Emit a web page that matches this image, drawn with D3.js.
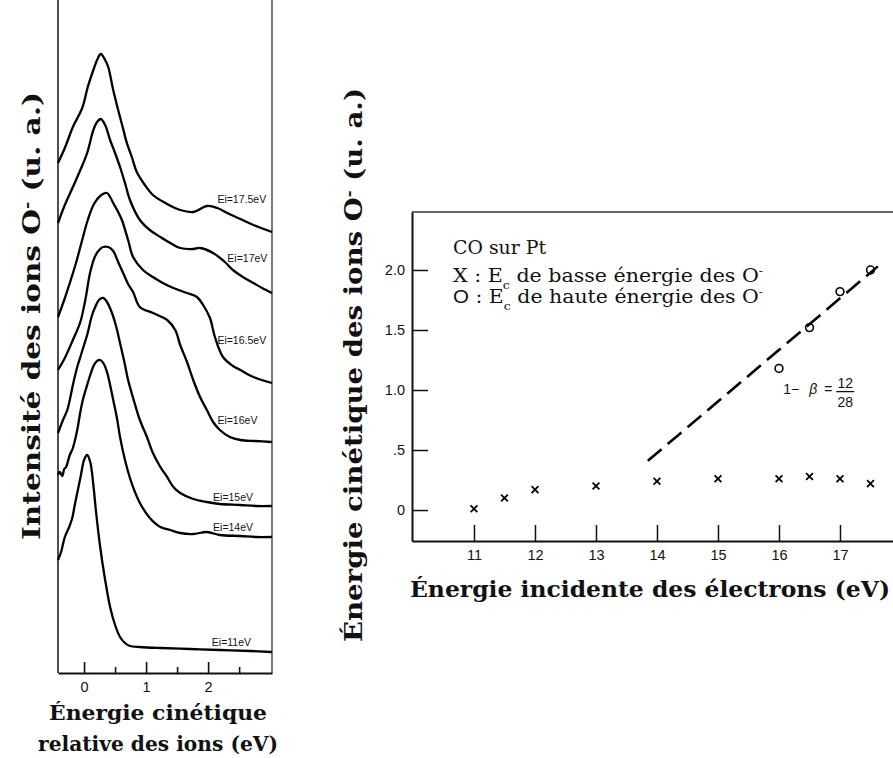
<!DOCTYPE html>
<html><head><meta charset="utf-8">
<script src="https://cdn.jsdelivr.net/npm/d3@7"></script>
<style>body{margin:0;background:#fff}</style>
</head><body>
<svg id="c" width="893" height="758"></svg>
<script>
// ================= DATA =================
// Left panel: relative kinetic energy of O- ions (eV) vs intensity (arbitrary units, curves offset)
const spectrumLabels = ["Ei=17.5eV","Ei=17eV","Ei=16.5eV","Ei=16eV","Ei=15eV","Ei=14eV","Ei=11eV"];

const ekin175 = [-0.42,-0.31,-0.18,-0.03,0.06,0.15,0.21,0.27,0.34,0.39,0.47,0.55,0.61,0.69,0.77,0.85,0.98,1.11,1.31,1.55,1.76,1.98,2.15,2.31,2.52,2.73,3.03];
const int175  = [51.0,52.5,54.6,56.5,58.6,60.3,61.3,61.9,61.3,60.6,58.3,56.3,54.9,53.0,51.6,50.1,48.8,47.8,47.0,46.3,46.1,46.7,46.5,46.0,45.4,44.8,44.1];

const ekin17 = [-0.42,-0.31,-0.18,-0.06,0.05,0.15,0.21,0.27,0.34,0.42,0.50,0.58,0.66,0.74,0.90,1.06,1.23,1.39,1.55,1.76,1.87,2.08,2.27,2.40,2.56,2.73,2.87,3.03];
const int17  = [45.0,46.8,48.6,50.3,52.0,54.3,55.1,55.4,54.8,53.3,52.0,50.6,49.0,47.3,45.3,44.3,43.6,43.0,42.5,42.4,42.5,42.0,41.1,40.3,39.6,39.0,38.5,38.0];

const ekin165 = [-0.42,-0.32,-0.23,-0.13,-0.03,0.06,0.16,0.26,0.37,0.42,0.47,0.55,0.61,0.71,0.79,0.95,1.11,1.27,1.44,1.66,1.82,1.92,2.03,2.11,2.24,2.40,2.52,2.73,3.03];
const int165  = [35.6,37.3,39.0,41.0,43.3,45.3,46.9,47.7,48.0,47.6,47.0,46.1,45.3,43.3,41.6,40.3,39.6,39.0,38.5,38.0,37.6,36.8,35.5,33.6,31.6,30.7,30.3,29.6,29.0];

const ekin16 = [-0.42,-0.31,-0.18,-0.06,0.02,0.10,0.18,0.26,0.31,0.39,0.47,0.55,0.63,0.71,0.79,0.90,1.11,1.34,1.47,1.55,1.66,1.76,1.87,1.98,2.08,2.19,2.35,2.52,2.76,3.03];
const int16  = [30.3,31.5,33.3,35.1,37.3,40.1,41.7,42.4,42.6,42.6,42.2,41.1,40.0,38.9,38.1,36.6,36.0,35.3,34.3,32.8,31.1,29.3,27.6,26.3,25.1,24.3,23.6,23.3,23.2,23.1];

const ekin15 = [-0.42,-0.39,-0.34,-0.27,-0.23,-0.18,-0.11,-0.06,0.00,0.05,0.13,0.18,0.24,0.31,0.37,0.45,0.52,0.58,0.65,0.71,0.81,0.90,1.02,1.11,1.23,1.34,1.44,1.55,1.76,1.98,2.19,2.52,2.76,3.03];
const int15  = [24.0,24.5,25.3,26.3,27.3,28.8,30.6,31.6,32.8,33.8,35.8,36.6,37.3,37.5,37.1,36.0,34.6,33.0,31.1,29.3,27.1,25.3,23.5,22.0,20.6,19.6,18.6,18.0,17.4,17.1,16.9,16.8,16.7,16.7];

const ekin14 = [-0.42,-0.39,-0.35,-0.32,-0.29,-0.23,-0.18,-0.11,-0.06,-0.02,0.05,0.10,0.16,0.21,0.26,0.32,0.37,0.42,0.47,0.53,0.58,0.66,0.74,0.82,0.90,1.06,1.23,1.39,1.55,1.76,1.98,2.19,2.52,2.76,3.03];
const int14  = [19.8,20.1,19.7,20.4,20.6,21.8,22.5,24.3,26.1,27.3,28.8,29.8,30.8,31.2,31.3,30.9,30.1,28.8,27.3,25.5,23.6,21.3,19.5,18.1,17.0,15.5,14.6,14.3,14.0,13.9,14.1,13.8,13.7,13.6,13.6];

const ekin11 = [-0.42,-0.37,-0.31,-0.24,-0.19,-0.15,-0.10,-0.05,0.00,0.05,0.10,0.15,0.19,0.26,0.34,0.42,0.50,0.58,0.66,0.74,0.90,1.23,1.71,2.19,2.68,3.03];
const int11  = [11.3,12.1,13.6,14.6,15.5,16.8,18.3,19.8,21.3,21.8,21.1,18.8,16.3,12.6,9.3,6.6,4.8,3.6,3.0,2.7,2.6,2.5,2.4,2.3,2.2,2.1];

const leftMajorTicks = [0,1,2];
const leftMinorTicks = [0.5,1.5,2.5];
const leftTickLabels = ["0","1","2"];

// Right panel: incident electron energy (eV) vs kinetic energy of O- (u. a.)
const incidentLow  = [11,11.5,12,13,14,15,16,16.5,17,17.5];
const ecLow        = [0.01,0.10,0.17,0.20,0.24,0.26,0.26,0.28,0.26,0.22];
const incidentHigh = [16,16.5,17,17.5];
const ecHigh       = [1.18,1.52,1.82,2.00];
const fitLineX = [13.85,17.62];
const fitLineY = [0.41,2.03];
const rightXTicks = [11,12,13,14,15,16,17];
const rightXTickLabels = ["11","12","13","14","15","16","17"];
const rightYTicks = [0,0.5,1,1.5,2];
const rightYTickLabels = ["0",".5","1.0","1.5","2.0"];

// ================= DRAWING =================
const svg = d3.select("#c");
const serif = "'DejaVu Serif', 'Liberation Serif', serif";
const sans = "'Liberation Sans', Arial, Helvetica, sans-serif";

function rich(sel, parts){
  parts.forEach(p=>{
    const ts = sel.append("tspan").text(p[0]);
    if(p[1]==="sup") ts.attr("baseline-shift","super").attr("font-size","60%");
    if(p[1]==="sub") ts.attr("baseline-shift","sub").attr("font-size","62%");
    if(p[1]==="sans") ts.attr("font-family",sans);
  });
  return sel;
}
function fitLen(sel, target){
  sel.attr("textLength",target).attr("lengthAdjust","spacingAndGlyphs");
}

// ---------- Left panel ----------
const xL = d3.scaleLinear().domain([-0.42,3.03]).range([58,272]);
const yL = d3.scaleLinear().domain([0,67.3]).range([673,0]);
const gL = svg.append("g");

gL.append("line").attr("x1",xL(-0.42)).attr("x2",xL(-0.42)).attr("y1",yL(67.3)).attr("y2",yL(0))
  .attr("stroke","#222").attr("stroke-width",1.6);
gL.append("line").attr("x1",xL(3.03)).attr("x2",xL(3.03)).attr("y1",yL(67.3)).attr("y2",yL(0))
  .attr("stroke","#444").attr("stroke-width",1.4);

const axMaj = d3.axisBottom(xL).tickValues(leftMajorTicks).tickSize(-11).tickSizeOuter(0)
  .tickPadding(9).tickFormat((d,i)=>leftTickLabels[i]);
const axMin = d3.axisBottom(xL).tickValues(leftMinorTicks).tickSize(-6).tickSizeOuter(0).tickFormat("");
gL.append("g").attr("transform",`translate(0,${yL(0)})`).call(axMin)
  .call(g=>g.select(".domain").remove())
  .selectAll("line").attr("stroke","#111").attr("stroke-width",1.6);
const axg = gL.append("g").attr("transform",`translate(0,${yL(0)})`).call(axMaj);
axg.select(".domain").attr("stroke","#111").attr("stroke-width",1.8);
axg.selectAll("line").attr("stroke","#111").attr("stroke-width",1.6);
axg.selectAll("text").attr("font-family",sans).attr("font-size",14.5).attr("fill","#111");

const spectra = [
  [ekin175,int175],[ekin17,int17],[ekin165,int165],[ekin16,int16],
  [ekin15,int15],[ekin14,int14],[ekin11,int11]
].map((s,i)=>({label:spectrumLabels[i], pts:s[0].map((x,j)=>[x,s[1][j]])}));

const line = d3.line().x(d=>xL(d[0])).y(d=>yL(d[1])).curve(d3.curveCatmullRom.alpha(0.5));
gL.selectAll("path.spec").data(spectra).join("path").attr("class","spec")
  .attr("d",d=>line(d.pts)).attr("fill","none").attr("stroke","#000")
  .attr("stroke-width",2.3).attr("stroke-linejoin","round");

const labelAt = [[2.15,47.0],[2.31,41.1],[2.15,32.9],[2.15,24.9],[2.08,17.2],[2.08,14.2],[2.06,2.7]];
gL.selectAll("text.lab").data(spectra).join("text").attr("class","lab")
  .attr("x",(d,i)=>xL(labelAt[i][0])).attr("y",(d,i)=>yL(labelAt[i][1]))
  .attr("font-family",sans).attr("font-size",10.5).attr("fill","#111")
  .text(d=>d.label);

// left titles
const tl = svg.append("text").attr("transform","translate(40,316) rotate(-90)")
  .attr("text-anchor","middle").attr("font-family",serif).attr("font-weight","bold")
  .attr("font-size",24).attr("fill","#111");
rich(tl,[["Intensité des ions O"],["-","sup"],[" (u. a.)"]]);
fitLen(tl,448);

const bl1 = svg.append("text").attr("x",158).attr("y",720).attr("text-anchor","middle")
  .attr("font-family",serif).attr("font-weight","bold").attr("font-size",21).attr("fill","#111")
  .text("Énergie cinétique");
fitLen(bl1,218);
const bl2 = svg.append("text").attr("x",158).attr("y",751).attr("text-anchor","middle")
  .attr("font-family",serif).attr("font-weight","bold").attr("font-size",21).attr("fill","#111")
  .text("relative des ions (eV)");
fitLen(bl2,240);

// ---------- Right panel ----------
const xR = d3.scaleLinear().domain([9.984,17.869]).range([412,893]);
const yR = d3.scaleLinear().domain([-0.258,2.483]).range([541,212]);
const gR = svg.append("g");

gR.append("line").attr("x1",xR(9.984)).attr("x2",xR(17.869)).attr("y1",yR(2.483)).attr("y2",yR(2.483))
  .attr("stroke","#333").attr("stroke-width",1.6);

const axX = d3.axisBottom(xR).tickValues(rightXTicks).tickSize(-16).tickSizeOuter(0)
  .tickPadding(9).tickFormat((d,i)=>rightXTickLabels[i]);
const gx = gR.append("g").attr("transform",`translate(0,${yR(-0.258)})`).call(axX);
gx.select(".domain").attr("stroke","#111").attr("stroke-width",2);
gx.selectAll("line").attr("stroke","#111").attr("stroke-width",1.5);
gx.selectAll("text").attr("font-family",sans).attr("font-size",14.5).attr("fill","#111");

const axY = d3.axisLeft(yR).tickValues(rightYTicks).tickSize(-16).tickSizeOuter(0)
  .tickPadding(7).tickFormat((d,i)=>rightYTickLabels[i]);
const gy = gR.append("g").attr("transform",`translate(${xR(9.984)},0)`).call(axY);
gy.select(".domain").attr("stroke","#111").attr("stroke-width",2);
gy.selectAll("line").attr("stroke","#111").attr("stroke-width",1.5);
gy.selectAll("text").attr("font-family",sans).attr("font-size",14.5).attr("fill","#111");

gR.append("line").attr("x1",xR(fitLineX[0])).attr("y1",yR(fitLineY[0]))
  .attr("x2",xR(fitLineX[1])).attr("y2",yR(fitLineY[1]))
  .attr("stroke","#000").attr("stroke-width",2.6).attr("stroke-dasharray","18 8");

gR.selectAll("path.xm").data(incidentLow).join("path").attr("class","xm")
  .attr("transform",(d,i)=>`translate(${xR(d)},${yR(ecLow[i])})`)
  .attr("d","M-3.4,-3.4L3.4,3.4M-3.4,3.4L3.4,-3.4")
  .attr("stroke","#000").attr("stroke-width",1.8).attr("fill","none");

gR.selectAll("circle.om").data(incidentHigh).join("circle").attr("class","om")
  .attr("cx",d=>xR(d)).attr("cy",(d,i)=>yR(ecHigh[i])).attr("r",3.9)
  .attr("fill","none").attr("stroke","#000").attr("stroke-width",1.6);

// legend
const lx = xR(9.984)+41;
const lg1 = gR.append("text").attr("x",lx).attr("y",254).attr("font-family",serif)
  .attr("font-size",19).attr("fill","#111").text("CO sur Pt");
fitLen(lg1,93);
const lg2 = gR.append("text").attr("x",lx).attr("y",282).attr("font-family",serif)
  .attr("font-size",19).attr("fill","#111");
rich(lg2,[["X : E"],["c","sub"],[" de basse énergie des O"],["-","sup"]]);
fitLen(lg2,310);
const lg3 = gR.append("text").attr("x",lx).attr("y",303).attr("font-family",serif)
  .attr("font-size",19).attr("fill","#111");
rich(lg3,[["O","sans"],[" : E"],["c","sub"],[" de haute énergie des O"],["-","sup"]]);
fitLen(lg3,310);

// annotation 1 - beta = 12/28
const ax0 = xR(16.07), ay0 = yR(1.02);
const ann = gR.append("g").attr("font-family",sans).attr("font-size",14).attr("fill","#111");
ann.append("text").attr("x",ax0).attr("y",ay0+6).text("1−");
ann.append("text").attr("x",ax0+26).attr("y",ay0+6).attr("font-style","italic").text("β");
ann.append("text").attr("x",ax0+41).attr("y",ay0+6).text("=");
ann.append("text").attr("x",ax0+62).attr("y",ay0).attr("text-anchor","middle").text("12");
ann.append("line").attr("x1",ax0+53).attr("x2",ax0+71).attr("y1",ay0+4).attr("y2",ay0+4)
  .attr("stroke","#111").attr("stroke-width",1.3);
ann.append("text").attr("x",ax0+62).attr("y",ay0+19).attr("text-anchor","middle").text("28");

// right titles
const tr = svg.append("text").attr("transform","translate(362,365) rotate(-90)")
  .attr("text-anchor","middle").attr("font-family",serif).attr("font-weight","bold")
  .attr("font-size",24).attr("fill","#111");
rich(tr,[["Énergie cinétique des ions O"],["-","sup"],[" (u. a.)"]]);
fitLen(tr,554);

const br = svg.append("text").attr("x",410).attr("y",597)
  .attr("font-family",serif).attr("font-weight","bold").attr("font-size",22.5).attr("fill","#111")
  .text("Énergie incidente des électrons (eV)");
fitLen(br,480);
</script>
</body></html>
